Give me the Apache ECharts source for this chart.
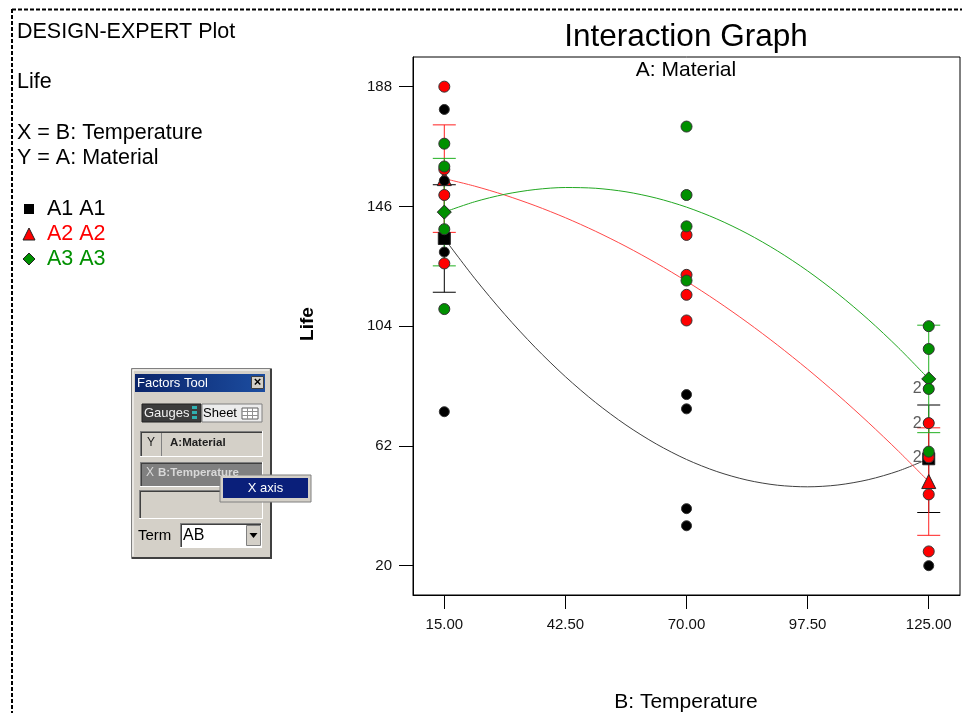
<!DOCTYPE html>
<html>
<head>
<meta charset="utf-8">
<script src="https://cdn.jsdelivr.net/npm/echarts@6/dist/echarts.min.js"></script>
<style>
html,body{margin:0;padding:0;background:#fff;}
#chart{width:962px;height:713px;}
</style>
</head>
<body>
<div id="chart"></div>
<script>
// ---- data ----
var temperatures = [15, 70, 125];
var xTicks = [15, 42.5, 70, 97.5, 125];
var yTicks = [20, 62, 104, 146, 188];

// raw observations (Life) per temperature level
var a1Life = [[130, 155, 74, 180], [34, 40, 80, 75], [20, 70, 82, 58]];
var a2Life = [[150, 188, 159, 126], [136, 122, 106, 115], [25, 70, 58, 45]];
var a3Life = [[138, 110, 168, 160], [174, 120, 150, 139], [96, 104, 82, 60]];

// treatment means shown as markers (end temperatures only)
var meanTemps = [15, 125];
var a1Mean = [134.75, 57.5];
var a2Mean = [155.75, 49.5];
var a3Mean = [144, 85.5];

// fitted interaction curves read at these temperatures
var curveX = [15, 21.875, 28.75, 35.625, 42.5, 49.375, 56.25, 63.125, 70, 76.875, 83.75, 90.625, 97.5, 104.375, 111.25, 118.125, 125];
var a1Curve = [134.75, 120.81, 108.09, 96.58, 86.28, 77.20, 69.34, 62.69, 57.25, 53.03, 50.02, 48.23, 47.66, 48.30, 50.15, 53.22, 57.5];
var a2Curve = [155.75, 153.12, 149.96, 146.26, 142.03, 137.26, 131.96, 126.12, 119.75, 112.84, 105.40, 97.42, 88.91, 79.86, 70.27, 60.16, 49.5];
var a3Curve = [144, 147.61, 150.25, 151.92, 152.63, 152.36, 151.13, 148.92, 145.75, 141.61, 136.5, 130.42, 123.38, 115.36, 106.38, 96.42, 85.5];

// LSD bars: [temperature, low, high]
var a1Bars = [[15, 115.9, 153.6], [125, 38.65, 76.35]];
var a2Bars = [[15, 136.9, 174.6], [125, 30.65, 68.35]];
var a3Bars = [[15, 125.15, 162.85], [125, 66.65, 104.35]];

// overlapping-point counts: [temperature, life, count]
var overlaps = [[125, 82, 2], [125, 70, 2], [125, 58, 2]];

// ---- helpers ----
function pts(levels, arr) {
  var out = [];
  for (var i = 0; i < levels.length; i++)
    for (var j = 0; j < arr[i].length; j++) out.push([levels[i], arr[i][j]]);
  return out;
}
function pairs(xs, ys) { return xs.map(function (x, i) { return [x, ys[i]]; }); }

var FONT = 'Liberation Sans, Arial, sans-serif';
var BLACK = '#000000', RED = '#ff0000', GREEN = '#009000';

function errSeries(data, color) {
  return {
    type: 'custom', data: data, z: 2, silent: true,
    renderItem: function (params, api) {
      var lo = api.coord([api.value(0), api.value(1)]);
      var hi = api.coord([api.value(0), api.value(2)]);
      var hw = 11.5;
      var st = { stroke: color, lineWidth: 1 };
      return { type: 'group', children: [
        { type: 'line', shape: { x1: lo[0], y1: lo[1], x2: hi[0], y2: hi[1] }, style: st },
        { type: 'line', shape: { x1: lo[0] - hw, y1: lo[1], x2: lo[0] + hw, y2: lo[1] }, style: st },
        { type: 'line', shape: { x1: hi[0] - hw, y1: hi[1], x2: hi[0] + hw, y2: hi[1] }, style: st }
      ]};
    }
  };
}
function curveSeries(data, color) {
  return { type: 'line', data: data, smooth: 0.3, symbol: 'none', z: 3, silent: true,
    lineStyle: { color: color, width: 1 } };
}
function meanSeries(data, symbol, size, color) {
  return { type: 'scatter', data: data, symbol: symbol, symbolSize: size, z: 4, silent: true,
    itemStyle: { color: color, borderColor: '#222', borderWidth: 1, opacity: 1 } };
}
function pointSeries(data, color, size) {
  return { type: 'scatter', data: data, symbol: 'circle', symbolSize: size, z: 5, silent: true,
    itemStyle: { color: color, borderColor: '#333', borderWidth: 1, opacity: 1 } };
}

// ---- widget graphics (Factors Tool window) ----
function txt(x, y, s, size, color, opts) {
  return { type: 'text', x: x, y: y, z: 100, style: { text: s,
    font: (opts && opts.weight ? opts.weight + ' ' : '') + size + 'px ' + FONT,
    fill: color, textVerticalAlign: 'middle', textAlign: (opts && opts.align) || 'left' } };
}
function rect(x, y, w, h, fill, stroke, lw, z) {
  return { type: 'rect', shape: { x: x, y: y, width: w, height: h }, z: z || 90,
    style: { fill: fill || 'none', stroke: stroke || null, lineWidth: lw || 1 } };
}
function line(x1, y1, x2, y2, color, w, dash, z) {
  return { type: 'line', shape: { x1: x1, y1: y1, x2: x2, y2: y2 }, z: z || 95,
    style: { stroke: color, lineWidth: w || 1, lineDash: dash || null } };
}
function sunken(x, y, w, h, fill) {
  return [rect(x, y, w, h, fill),
    line(x, y + 0.5, x + w, y + 0.5, '#808080'), line(x + 0.5, y, x + 0.5, y + h, '#808080'),
    line(x + 1, y + 1.5, x + w - 1, y + 1.5, '#404040'), line(x + 1.5, y + 1, x + 1.5, y + h - 1, '#404040'),
    line(x, y + h - 0.5, x + w, y + h - 0.5, '#ffffff'), line(x + w - 0.5, y, x + w - 0.5, y + h, '#ffffff')];
}

var g = [];
// dashed page border
g.push(line(12, 9.5, 962, 9.5, '#000', 2, [4, 2]));
g.push(line(12, 9, 12, 713, '#000', 2, [4, 2]));
// left info texts
g.push(txt(17, 32, 'DESIGN-EXPERT Plot', 21.5, '#000'));
g.push(txt(17, 82, 'Life', 21.5, '#000'));
g.push(txt(17, 133, 'X = B: Temperature', 21.5, '#000'));
g.push(txt(17, 158, 'Y = A: Material', 21.5, '#000'));
// legend
g.push({ type: 'rect', shape: { x: 24, y: 204, width: 10, height: 10 }, style: { fill: '#000' }, z: 100 });
g.push({ type: 'polygon', shape: { points: [[29, 228], [35, 240], [23, 240]] }, style: { fill: RED, stroke: '#222', lineWidth: 1 }, z: 100 });
g.push({ type: 'polygon', shape: { points: [[29, 253], [35, 259], [29, 265], [23, 259]] }, style: { fill: GREEN, stroke: '#222', lineWidth: 1 }, z: 100 });
g.push(txt(47, 209, 'A1 A1', 21.5, '#000'));
g.push(txt(47, 234, 'A2 A2', 21.5, RED));
g.push(txt(47, 259, 'A3 A3', 21.5, GREEN));
// titles
g.push(txt(686, 37, 'Interaction Graph', 31.5, '#000', { align: 'center' }));
g.push(txt(686, 70, 'A: Material', 21, '#000', { align: 'center' }));
g.push(txt(686, 702, 'B: Temperature', 21, '#000', { align: 'center' }));
g.push({ type: 'text', x: 308, y: 324, rotation: Math.PI / 2,
  style: { text: 'Life', font: 'bold 19px ' + FONT, fill: '#000', textAlign: 'center', textVerticalAlign: 'middle' }, z: 100 });

// Factors Tool window
g.push(rect(131.5, 368.5, 140, 190, '#d4d0c8', '#808080', 1, 88));
g.push(line(133, 370, 269, 370, '#ffffff'));
g.push(line(133, 370, 133, 556, '#ffffff'));
g.push(line(271, 369, 271, 558, '#404040', 2));
g.push(line(132, 558, 272, 558, '#404040', 2));
g.push({ type: 'rect', shape: { x: 135, y: 374, width: 130, height: 18 }, z: 91,
  style: { fill: { type: 'linear', x: 0, y: 0, x2: 1, y2: 0, colorStops: [{ offset: 0, color: '#0a246a' }, { offset: 1, color: '#1c4da0' }] } } });
g.push(txt(137, 383, 'Factors Tool', 13, '#ffffff'));
g.push(rect(251.5, 376.5, 12, 12, '#d4d0c8', '#404040', 1, 98));
g.push(txt(257.5, 382.5, '×', 13, '#000', { align: 'center', weight: 'bold' }));
// Gauges / Sheet buttons
g.push(rect(142, 404, 59, 18, '#3c3c3c', '#202020', 1));
g.push(txt(144, 413, 'Gauges', 13, '#f0f0f0'));
g.push(rect(192, 406, 5, 3, '#30b0b0', null, 1, 96));
g.push(rect(192, 411, 5, 3, '#30b0b0', null, 1, 96));
g.push(rect(192, 416, 5, 3, '#30b0b0', null, 1, 96));
g.push(rect(202, 404, 60, 18, '#ececec', '#808080', 1));
g.push(txt(203, 413, 'Sheet', 13, '#000'));
g.push(rect(242, 408, 16, 11, '#ffffff', '#606060', 1, 96));
g.push(line(242, 411.5, 258, 411.5, '#909090', 1, null, 97));
g.push(line(242, 415.5, 258, 415.5, '#909090', 1, null, 97));
g.push(line(247.5, 408, 247.5, 419, '#909090', 1, null, 97));
g.push(line(252.5, 408, 252.5, 419, '#909090', 1, null, 97));
// Y row
sunken(140, 431, 123, 26, '#d4d0c8').forEach(function (e) { g.push(e); });
g.push(line(161.5, 433, 161.5, 456, '#808080'));
g.push(txt(151, 443, 'Y', 12, '#202020', { align: 'center' }));
g.push(txt(170, 443, 'A:Material', 11.5, '#202020', { weight: 'bold' }));
// X row
sunken(140, 462, 123, 25, '#808080').forEach(function (e) { g.push(e); });
g.push(txt(146, 473, 'X', 12, '#d8d8d8'));
g.push(txt(158, 473, 'B:Temperature', 11.5, '#d8d8d8', { weight: 'bold' }));
// empty row
sunken(139, 490, 124, 29, '#d4d0c8').forEach(function (e) { g.push(e); });
// Term combo
g.push(txt(138, 536, 'Term', 15, '#000'));
sunken(180, 523, 82, 25, '#ffffff').forEach(function (e) { g.push(e); });
g.push(txt(183, 536, 'AB', 16, '#000'));
g.push(rect(246.5, 525.5, 14, 20, '#d4d0c8', '#808080', 1, 96));
g.push({ type: 'polygon', shape: { points: [[249.5, 533], [257.5, 533], [253.5, 538]] }, style: { fill: '#000' }, z: 100 });
// popup "X axis"
g.push(rect(220, 475, 91, 27, '#d4d0c8', '#808080', 1, 97));
g.push(rect(223, 478, 85, 20, '#0a1f7a', null, 1, 98));
g.push(txt(265.5, 488, 'X axis', 13, '#ffffff', { align: 'center' }));

var chart = echarts.init(document.getElementById('chart'), null, { renderer: 'canvas' });
chart.setOption({
  animation: false,
  backgroundColor: '#ffffff',
  grid: { left: 413, top: 57, width: 547, height: 538, show: true, borderColor: '#000', borderWidth: 1,
    backgroundColor: 'transparent', outerBoundsMode: 'none' },
  xAxis: {
    type: 'value', min: 7.89, max: 132.1,
    splitLine: { show: false },
    axisLine: { show: true, onZero: false, lineStyle: { color: '#000', width: 1 } },
    axisTick: { show: true, length: 14, inside: false, customValues: xTicks, lineStyle: { color: '#000' } },
    axisLabel: { customValues: xTicks, margin: 22, fontSize: 15, fontFamily: FONT, color: '#111',
      formatter: function (v) { return v.toFixed(2); } }
  },
  yAxis: {
    type: 'value', min: 9.72, max: 198.4,
    splitLine: { show: false },
    axisLine: { show: true, onZero: false, lineStyle: { color: '#000', width: 1 } },
    axisTick: { show: true, length: 14, inside: false, customValues: yTicks, lineStyle: { color: '#000' } },
    axisLabel: { customValues: yTicks, margin: 21, fontSize: 15, fontFamily: FONT, color: '#111',
      formatter: function (v) { return String(Math.round(v)); } }
  },
  series: [
    errSeries(a1Bars, '#000000'),
    errSeries(a2Bars, '#ff2020'),
    errSeries(a3Bars, '#20b020'),
    curveSeries(pairs(curveX, a1Curve), '#404040'),
    curveSeries(pairs(curveX, a2Curve), '#ff4848'),
    curveSeries(pairs(curveX, a3Curve), '#22a822'),
    meanSeries(pairs(meanTemps, a1Mean), 'rect', 12, BLACK),
    meanSeries(pairs(meanTemps, a2Mean), 'triangle', 14, RED),
    meanSeries(pairs(meanTemps, a3Mean), 'diamond', 14, GREEN),
    pointSeries(pts(temperatures, a1Life), BLACK, 10),
    pointSeries(pts(temperatures, a2Life), RED, 11),
    pointSeries(pts(temperatures, a3Life), GREEN, 11),
    { type: 'scatter', data: overlaps, symbolSize: 0, z: 6, silent: true,
      label: { show: true, position: 'left', distance: 7, fontSize: 16, fontFamily: FONT, color: '#333',
        formatter: function (p) { return String(p.value[2]); } } }
  ],
  graphic: g
});
</script>
</body>
</html>
